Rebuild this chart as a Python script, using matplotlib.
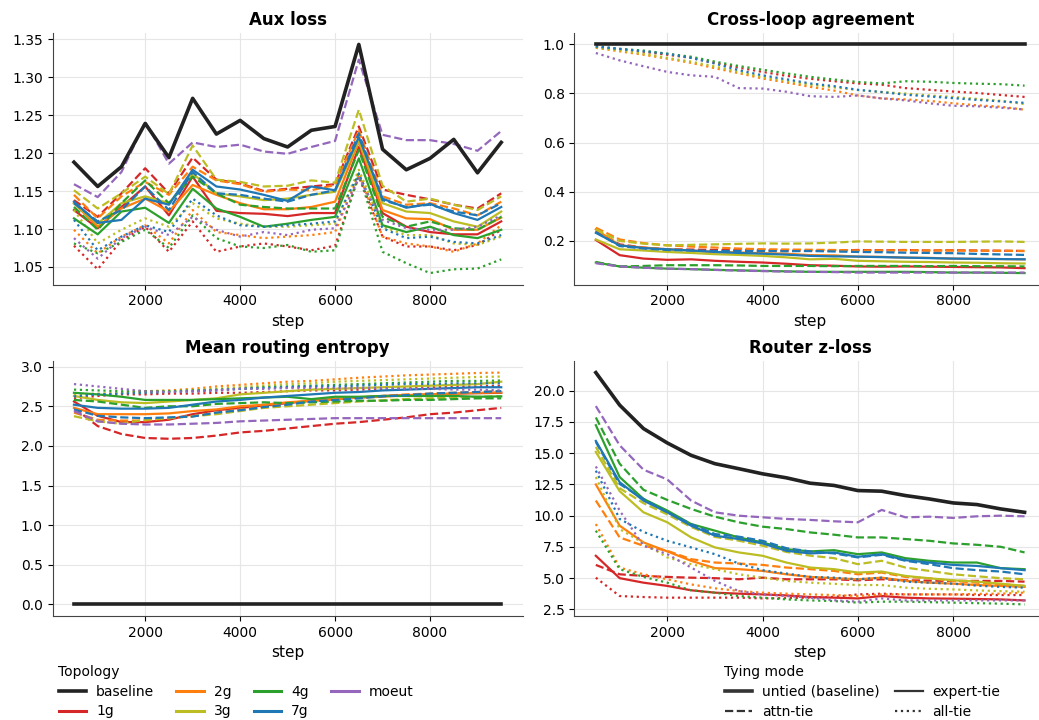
import numpy as np
import matplotlib
matplotlib.use("Agg")
import matplotlib.pyplot as plt
from matplotlib.lines import Line2D

steps = list(range(500, 10000, 500))

topologies = ["baseline", "1g", "2g", "3g", "4g", "7g", "moeut"]
topo_colors = {"baseline": "#222222", "1g": "#d62728", "2g": "#ff7f0e", "3g": "#bcbd22",
               "4g": "#2ca02c", "7g": "#1f77b4", "moeut": "#9467bd"}
tying_modes = ["expert-tie", "attn-tie", "all-tie"]
mode_styles = {"expert-tie": "-", "attn-tie": "--", "all-tie": ":"}

# --- Aux loss ---
aux_baseline = [1.188, 1.156, 1.182, 1.239, 1.194, 1.272, 1.225, 1.243, 1.219, 1.208,
                1.230, 1.235, 1.343, 1.205, 1.178, 1.193, 1.218, 1.174, 1.214]
aux_loss = {
    ("1g", "expert-tie"): [1.125, 1.101, 1.129, 1.156, 1.118, 1.169, 1.124, 1.121, 1.120, 1.117, 1.121, 1.121, 1.208, 1.121, 1.103, 1.096, 1.093, 1.093, 1.110],
    ("1g", "attn-tie"): [1.138, 1.116, 1.147, 1.180, 1.147, 1.194, 1.165, 1.160, 1.150, 1.153, 1.156, 1.159, 1.235, 1.152, 1.145, 1.139, 1.132, 1.127, 1.147],
    ("1g", "all-tie"): [1.078, 1.047, 1.085, 1.103, 1.070, 1.110, 1.070, 1.077, 1.081, 1.077, 1.072, 1.078, 1.169, 1.090, 1.077, 1.077, 1.072, 1.079, 1.099],
    ("2g", "expert-tie"): [1.134, 1.103, 1.127, 1.140, 1.123, 1.158, 1.145, 1.134, 1.126, 1.126, 1.129, 1.136, 1.215, 1.125, 1.114, 1.113, 1.099, 1.099, 1.115],
    ("2g", "attn-tie"): [1.145, 1.114, 1.143, 1.162, 1.145, 1.182, 1.164, 1.159, 1.149, 1.152, 1.151, 1.158, 1.230, 1.143, 1.132, 1.134, 1.127, 1.118, 1.136],
    ("2g", "all-tie"): [1.099, 1.068, 1.090, 1.105, 1.081, 1.125, 1.096, 1.092, 1.088, 1.090, 1.092, 1.096, 1.173, 1.090, 1.081, 1.077, 1.070, 1.081, 1.105],
    ("3g", "expert-tie"): [1.134, 1.107, 1.134, 1.143, 1.134, 1.173, 1.147, 1.143, 1.138, 1.140, 1.145, 1.149, 1.217, 1.134, 1.123, 1.121, 1.110, 1.103, 1.123],
    ("3g", "attn-tie"): [1.151, 1.127, 1.147, 1.169, 1.146, 1.210, 1.165, 1.162, 1.156, 1.157, 1.164, 1.161, 1.257, 1.157, 1.136, 1.140, 1.132, 1.125, 1.143],
    ("3g", "all-tie"): [1.125, 1.081, 1.099, 1.114, 1.103, 1.134, 1.114, 1.107, 1.103, 1.103, 1.105, 1.107, 1.178, 1.103, 1.092, 1.092, 1.081, 1.079, 1.090],
    ("4g", "expert-tie"): [1.114, 1.093, 1.123, 1.128, 1.108, 1.153, 1.127, 1.116, 1.103, 1.107, 1.112, 1.116, 1.193, 1.105, 1.096, 1.103, 1.092, 1.088, 1.099],
    ("4g", "attn-tie"): [1.129, 1.099, 1.134, 1.164, 1.134, 1.169, 1.147, 1.132, 1.129, 1.127, 1.127, 1.127, 1.204, 1.116, 1.103, 1.110, 1.101, 1.099, 1.116],
    ("4g", "all-tie"): [1.081, 1.068, 1.083, 1.099, 1.075, 1.118, 1.088, 1.077, 1.075, 1.079, 1.070, 1.072, 1.173, 1.070, 1.055, 1.042, 1.047, 1.048, 1.060],
    ("7g", "expert-tie"): [1.136, 1.108, 1.112, 1.140, 1.132, 1.178, 1.156, 1.152, 1.145, 1.137, 1.156, 1.151, 1.221, 1.140, 1.128, 1.133, 1.121, 1.112, 1.129],
    ("7g", "attn-tie"): [1.134, 1.110, 1.125, 1.156, 1.125, 1.175, 1.147, 1.145, 1.140, 1.136, 1.145, 1.151, 1.226, 1.138, 1.129, 1.132, 1.123, 1.118, 1.134],
    ("7g", "all-tie"): [1.112, 1.072, 1.090, 1.105, 1.096, 1.140, 1.118, 1.105, 1.103, 1.105, 1.107, 1.110, 1.173, 1.101, 1.088, 1.090, 1.083, 1.081, 1.092],
    ("moeut", "attn-tie"): [1.159, 1.142, 1.175, 1.241, 1.186, 1.214, 1.208, 1.211, 1.202, 1.199, 1.208, 1.216, 1.323, 1.224, 1.217, 1.217, 1.212, 1.203, 1.229],
    ("moeut", "all-tie"): [1.088, 1.061, 1.088, 1.103, 1.092, 1.116, 1.099, 1.090, 1.096, 1.092, 1.099, 1.101, 1.167, 1.112, 1.101, 1.099, 1.099, 1.103, 1.118],
}

# --- Cross-loop agreement ---
agree_baseline = [1.0] * 19
cross_loop = {
    ("1g", "expert-tie"): [0.203, 0.141, 0.127, 0.122, 0.124, 0.118, 0.114, 0.111, 0.106, 0.100, 0.098, 0.095, 0.094, 0.095, 0.094, 0.093, 0.092, 0.091, 0.088],
    ("1g", "attn-tie"): [0.240, 0.185, 0.172, 0.165, 0.164, 0.162, 0.163, 0.162, 0.160, 0.158, 0.160, 0.162, 0.161, 0.162, 0.160, 0.161, 0.160, 0.159, 0.158],
    ("1g", "all-tie"): [0.990, 0.980, 0.970, 0.958, 0.945, 0.925, 0.905, 0.888, 0.872, 0.860, 0.850, 0.841, 0.836, 0.822, 0.815, 0.808, 0.802, 0.794, 0.786],
    ("2g", "expert-tie"): [0.246, 0.181, 0.172, 0.165, 0.160, 0.154, 0.152, 0.149, 0.147, 0.141, 0.140, 0.135, 0.134, 0.131, 0.130, 0.127, 0.126, 0.125, 0.124],
    ("2g", "attn-tie"): [0.253, 0.205, 0.190, 0.181, 0.176, 0.172, 0.168, 0.165, 0.164, 0.163, 0.162, 0.160, 0.160, 0.161, 0.160, 0.160, 0.159, 0.159, 0.158],
    ("2g", "all-tie"): [0.986, 0.972, 0.958, 0.942, 0.925, 0.903, 0.883, 0.861, 0.845, 0.827, 0.812, 0.792, 0.780, 0.776, 0.770, 0.760, 0.752, 0.746, 0.734],
    ("3g", "expert-tie"): [0.205, 0.165, 0.160, 0.154, 0.150, 0.145, 0.142, 0.138, 0.132, 0.124, 0.126, 0.118, 0.116, 0.114, 0.113, 0.111, 0.110, 0.108, 0.107],
    ("3g", "attn-tie"): [0.246, 0.199, 0.188, 0.181, 0.183, 0.185, 0.187, 0.189, 0.188, 0.189, 0.192, 0.197, 0.196, 0.195, 0.195, 0.195, 0.196, 0.197, 0.195],
    ("3g", "all-tie"): [0.988, 0.976, 0.962, 0.945, 0.930, 0.910, 0.888, 0.866, 0.852, 0.836, 0.825, 0.814, 0.806, 0.800, 0.792, 0.786, 0.778, 0.770, 0.757],
    ("4g", "expert-tie"): [0.111, 0.095, 0.090, 0.086, 0.084, 0.081, 0.079, 0.077, 0.075, 0.073, 0.073, 0.073, 0.073, 0.073, 0.072, 0.070, 0.070, 0.069, 0.068],
    ("4g", "attn-tie"): [0.113, 0.095, 0.097, 0.100, 0.100, 0.100, 0.099, 0.097, 0.097, 0.097, 0.096, 0.097, 0.097, 0.097, 0.096, 0.097, 0.096, 0.096, 0.095],
    ("4g", "all-tie"): [0.992, 0.982, 0.975, 0.962, 0.950, 0.930, 0.912, 0.897, 0.882, 0.868, 0.857, 0.847, 0.841, 0.850, 0.848, 0.843, 0.840, 0.838, 0.832],
    ("7g", "expert-tie"): [0.232, 0.181, 0.170, 0.165, 0.160, 0.154, 0.150, 0.147, 0.143, 0.138, 0.136, 0.135, 0.133, 0.131, 0.129, 0.127, 0.126, 0.125, 0.124],
    ("7g", "attn-tie"): [0.235, 0.178, 0.168, 0.162, 0.160, 0.158, 0.158, 0.158, 0.157, 0.158, 0.156, 0.154, 0.153, 0.151, 0.150, 0.149, 0.146, 0.144, 0.142],
    ("7g", "all-tie"): [0.992, 0.982, 0.972, 0.962, 0.945, 0.922, 0.895, 0.874, 0.858, 0.841, 0.830, 0.815, 0.806, 0.795, 0.788, 0.781, 0.774, 0.768, 0.762],
    ("moeut", "attn-tie"): [0.108, 0.095, 0.090, 0.086, 0.084, 0.081, 0.078, 0.076, 0.074, 0.073, 0.072, 0.070, 0.070, 0.070, 0.070, 0.070, 0.070, 0.070, 0.070],
    ("moeut", "all-tie"): [0.965, 0.935, 0.911, 0.888, 0.874, 0.868, 0.822, 0.820, 0.807, 0.789, 0.786, 0.792, 0.780, 0.772, 0.760, 0.750, 0.748, 0.742, 0.735],
}

# --- Mean routing entropy ---
entropy_baseline = [0.0] * 19
routing_entropy = {
    ("1g", "expert-tie"): [2.56, 2.38, 2.30, 2.30, 2.33, 2.40, 2.45, 2.48, 2.51, 2.54, 2.57, 2.59, 2.61, 2.63, 2.64, 2.65, 2.66, 2.665, 2.67],
    ("1g", "attn-tie"): [2.48, 2.25, 2.15, 2.10, 2.09, 2.10, 2.13, 2.17, 2.19, 2.22, 2.25, 2.28, 2.30, 2.33, 2.36, 2.40, 2.42, 2.45, 2.48],
    ("1g", "all-tie"): [2.60, 2.63, 2.65, 2.65, 2.66, 2.66, 2.67, 2.67, 2.68, 2.69, 2.70, 2.70, 2.71, 2.72, 2.73, 2.74, 2.75, 2.75, 2.76],
    ("2g", "expert-tie"): [2.48, 2.40, 2.40, 2.40, 2.41, 2.44, 2.46, 2.50, 2.52, 2.55, 2.57, 2.59, 2.61, 2.62, 2.64, 2.65, 2.66, 2.67, 2.675],
    ("2g", "attn-tie"): [2.42, 2.33, 2.32, 2.32, 2.35, 2.375, 2.42, 2.46, 2.50, 2.53, 2.56, 2.59, 2.61, 2.63, 2.65, 2.66, 2.67, 2.68, 2.69],
    ("2g", "all-tie"): [2.63, 2.65, 2.67, 2.69, 2.70, 2.72, 2.75, 2.77, 2.79, 2.81, 2.82, 2.84, 2.86, 2.875, 2.89, 2.90, 2.91, 2.92, 2.925],
    ("3g", "expert-tie"): [2.63, 2.58, 2.55, 2.54, 2.56, 2.58, 2.60, 2.65, 2.67, 2.69, 2.71, 2.72, 2.73, 2.74, 2.75, 2.76, 2.77, 2.78, 2.81],
    ("3g", "attn-tie"): [2.375, 2.31, 2.28, 2.33, 2.35, 2.375, 2.40, 2.44, 2.48, 2.50, 2.52, 2.54, 2.56, 2.575, 2.59, 2.60, 2.61, 2.62, 2.625],
    ("3g", "all-tie"): [2.65, 2.66, 2.67, 2.69, 2.69, 2.70, 2.72, 2.74, 2.76, 2.78, 2.79, 2.81, 2.82, 2.83, 2.84, 2.85, 2.86, 2.87, 2.875],
    ("4g", "expert-tie"): [2.67, 2.65, 2.62, 2.58, 2.58, 2.58, 2.59, 2.60, 2.61, 2.62, 2.59, 2.62, 2.62, 2.63, 2.63, 2.63, 2.63, 2.62, 2.625],
    ("4g", "attn-tie"): [2.58, 2.56, 2.52, 2.48, 2.50, 2.50, 2.53, 2.54, 2.55, 2.54, 2.55, 2.56, 2.57, 2.57, 2.58, 2.58, 2.59, 2.60, 2.60],
    ("4g", "all-tie"): [2.71, 2.70, 2.69, 2.69, 2.69, 2.70, 2.71, 2.72, 2.74, 2.75, 2.76, 2.77, 2.78, 2.79, 2.80, 2.81, 2.82, 2.82, 2.825],
    ("7g", "expert-tie"): [2.52, 2.48, 2.47, 2.47, 2.48, 2.52, 2.56, 2.58, 2.61, 2.63, 2.65, 2.67, 2.68, 2.70, 2.71, 2.72, 2.73, 2.74, 2.74],
    ("7g", "attn-tie"): [2.46, 2.38, 2.36, 2.35, 2.36, 2.37, 2.42, 2.45, 2.49, 2.52, 2.56, 2.58, 2.60, 2.625, 2.64, 2.66, 2.67, 2.68, 2.69],
    ("7g", "all-tie"): [2.625, 2.65, 2.66, 2.67, 2.68, 2.69, 2.70, 2.72, 2.73, 2.74, 2.75, 2.75, 2.76, 2.77, 2.78, 2.78, 2.79, 2.79, 2.79],
    ("moeut", "attn-tie"): [2.44, 2.31, 2.28, 2.27, 2.27, 2.28, 2.29, 2.31, 2.32, 2.33, 2.34, 2.35, 2.35, 2.35, 2.35, 2.35, 2.35, 2.35, 2.35],
    ("moeut", "all-tie"): [2.78, 2.75, 2.72, 2.69, 2.68, 2.69, 2.70, 2.72, 2.72, 2.73, 2.73, 2.73, 2.73, 2.73, 2.72, 2.72, 2.71, 2.71, 2.70],
}

# --- Router z-loss ---
zloss_baseline = [21.45, 18.85, 16.97, 15.82, 14.83, 14.16, 13.76, 13.35, 13.03, 12.60,
                  12.42, 12.01, 11.96, 11.61, 11.34, 11.02, 10.89, 10.54, 10.27]
router_zloss = {
    ("1g", "expert-tie"): [6.79, 5.00, 4.64, 4.38, 4.03, 3.84, 3.76, 3.70, 3.62, 3.49, 3.44, 3.38, 3.57, 3.44, 3.38, 3.36, 3.33, 3.30, 3.22],
    ("1g", "attn-tie"): [6.06, 5.31, 5.18, 5.10, 5.04, 5.00, 4.91, 5.04, 4.91, 4.91, 4.91, 4.83, 4.91, 4.83, 4.80, 4.78, 4.78, 4.78, 4.72],
    ("1g", "all-tie"): [5.04, 3.57, 3.49, 3.44, 3.44, 3.44, 3.44, 3.38, 3.40, 3.44, 3.50, 3.70, 3.76, 3.70, 3.70, 3.70, 3.65, 3.65, 3.65],
    ("2g", "expert-tie"): [12.50, 9.20, 7.86, 7.14, 6.39, 5.80, 5.72, 5.58, 5.31, 5.10, 5.00, 4.91, 5.04, 4.78, 4.64, 4.56, 4.45, 4.38, 4.30],
    ("2g", "attn-tie"): [11.21, 8.26, 7.59, 7.19, 6.52, 6.25, 6.17, 6.06, 5.85, 5.72, 5.58, 5.31, 5.45, 5.10, 4.99, 4.78, 4.64, 4.50, 4.38],
    ("2g", "all-tie"): [9.33, 5.85, 5.31, 4.91, 4.50, 4.19, 3.97, 3.84, 3.76, 3.70, 3.65, 3.57, 3.70, 3.70, 3.70, 3.70, 3.74, 3.76, 3.84],
    ("3g", "expert-tie"): [15.10, 11.96, 10.27, 9.47, 8.26, 7.46, 7.06, 6.79, 6.25, 5.85, 5.72, 5.45, 5.53, 5.18, 4.99, 4.83, 4.72, 4.56, 4.38],
    ("3g", "attn-tie"): [15.50, 12.20, 11.00, 10.10, 9.10, 8.30, 8.00, 7.60, 7.10, 6.80, 6.60, 6.12, 6.39, 5.85, 5.58, 5.31, 5.15, 5.00, 4.91],
    ("3g", "all-tie"): [13.09, 8.93, 7.80, 6.66, 6.12, 5.72, 5.31, 5.04, 4.78, 4.64, 4.55, 4.45, 4.45, 4.24, 4.15, 4.10, 4.02, 3.96, 3.92],
    ("4g", "expert-tie"): [17.24, 13.09, 11.34, 10.41, 9.33, 8.80, 8.26, 7.86, 7.32, 7.14, 7.24, 6.92, 7.06, 6.60, 6.39, 6.25, 6.25, 5.80, 5.72],
    ("4g", "attn-tie"): [17.86, 14.16, 12.07, 11.26, 10.54, 9.92, 9.47, 9.12, 8.93, 8.66, 8.48, 8.26, 8.26, 8.13, 7.99, 7.78, 7.67, 7.51, 7.06],
    ("4g", "all-tie"): [8.80, 5.72, 5.10, 4.64, 4.03, 3.84, 3.57, 3.44, 3.30, 3.22, 3.17, 3.04, 3.12, 3.12, 3.08, 3.04, 3.00, 2.96, 2.90],
    ("7g", "expert-tie"): [15.98, 12.68, 11.21, 10.27, 9.20, 8.40, 8.13, 7.78, 7.19, 6.98, 7.06, 6.71, 6.92, 6.44, 6.25, 6.06, 5.98, 5.80, 5.64],
    ("7g", "attn-tie"): [15.90, 12.54, 11.34, 10.27, 9.33, 8.53, 8.32, 7.99, 7.40, 7.14, 6.98, 6.66, 6.87, 6.39, 6.12, 5.80, 5.64, 5.53, 5.31],
    ("7g", "all-tie"): [13.60, 9.74, 8.70, 7.99, 7.46, 6.92, 6.17, 5.64, 5.37, 5.10, 5.04, 4.91, 5.04, 4.72, 4.64, 4.56, 4.40, 4.30, 4.24],
    ("moeut", "attn-tie"): [18.77, 15.63, 13.68, 12.90, 11.21, 10.27, 10.00, 9.87, 9.74, 9.66, 9.55, 9.47, 10.46, 9.87, 9.92, 9.82, 9.95, 10.00, 9.95],
    ("moeut", "all-tie"): [13.94, 10.41, 7.59, 6.92, 5.85, 4.78, 3.97, 3.70, 3.57, 3.44, 3.23, 3.12, 3.38, 3.22, 3.22, 3.22, 3.22, 3.22, 3.22],
}

panels = [
    ("Aux loss", aux_loss, aux_baseline),
    ("Cross-loop agreement", cross_loop, agree_baseline),
    ("Mean routing entropy", routing_entropy, entropy_baseline),
    ("Router z-loss", router_zloss, zloss_baseline),
]

plt.rcParams["font.family"] = ["DejaVu Sans"]
plt.rcParams["font.size"] = 10

fig = plt.figure(figsize=(10.39, 7.2), dpi=100)
W, H = 1039.0, 720.0
# axes boxes in pixels: (left, top, right, bottom)
boxes = [(52.6, 33, 522.6, 284.5), (574.4, 33, 1046, 284.5),
         (52.6, 361, 522.6, 616), (574.4, 361, 1046, 616)]

for (title, data, base), (l, t, r, b) in zip(panels, boxes):
    ax = fig.add_axes([l / W, 1 - b / H, (r - l) / W, (b - t) / H])
    for (topo, mode), vals in data.items():
        ax.plot(steps, vals, color=topo_colors[topo], linestyle=mode_styles[mode],
                linewidth=1.6, zorder=2)
    ax.plot(steps, base, color=topo_colors["baseline"], linewidth=2.6, zorder=3)
    ax.set_title(title, fontsize=12, fontweight="bold")
    ax.set_xlabel("step", fontsize=11)
    ax.grid(True, color="#e6e6e6", linewidth=0.8)
    ax.set_axisbelow(True)
    ax.spines["top"].set_visible(False)
    ax.spines["right"].set_visible(False)
    for s in ("left", "bottom"):
        ax.spines[s].set_color("#444444")
    ax.set_xticks([2000, 4000, 6000, 8000])
    ax.tick_params(labelsize=10)

topo_handles = [Line2D([], [], color=topo_colors[t], linewidth=2.6 if t == "baseline" else 2.2)
                for t in topologies]
fig.legend(topo_handles, topologies, title="Topology", ncol=4, frameon=False,
           loc="lower left", bbox_to_anchor=(46 / W, -11 / H), alignment="left",
           fontsize=10, title_fontsize=10, handlelength=2.0, columnspacing=1.6,
           handletextpad=0.7, labelspacing=0.4)

mode_labels = ["untied (baseline)", "attn-tie", "expert-tie", "all-tie"]
mode_handles = [Line2D([], [], color="#333333", linewidth=2.6),
                Line2D([], [], color="#333333", linestyle="--", linewidth=1.6),
                Line2D([], [], color="#333333", linestyle="-", linewidth=1.6),
                Line2D([], [], color="#333333", linestyle=":", linewidth=1.6)]
fig.legend(mode_handles, mode_labels, title="Tying mode", ncol=2, frameon=False,
           loc="lower left", bbox_to_anchor=(712 / W, -11 / H), alignment="left",
           fontsize=10, title_fontsize=10, handlelength=2.0, columnspacing=1.1,
           handletextpad=0.7, labelspacing=0.4)

fig.savefig("out.png", dpi=100)
